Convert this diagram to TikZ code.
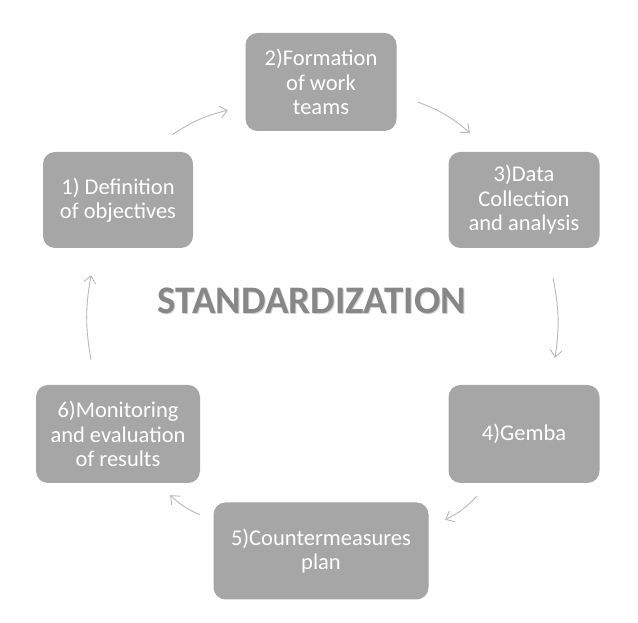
\documentclass[tikz,border=0pt]{standalone}
\usepackage{fontspec}
\setmainfont{Carlito}
\usetikzlibrary{arrows.meta}

\tikzset{
  stage/.style={fill=black!35, rounded corners=12pt, text=white, align=center,
    font=\fontsize{22.5}{24.5}\selectfont, inner sep=0pt},
  flow/.style={draw=black!28, line width=0.9pt, -{Straight Barb[length=7pt,width=12pt]}, bend left=10}
}

\begin{document}
\begin{tikzpicture}[x=1pt,y=1pt]
    \useasboundingbox (0,0) rectangle (638,623);

    \node[stage, minimum width=150, minimum height=96] (obj) at (118,423) {1) Definition\\of objectives};
    \node[stage, minimum width=151, minimum height=98] (team) at (321,541) {2)Formation\\of work\\teams};
    \node[stage, minimum width=151, minimum height=96] (data) at (524,423) {3)Data\\Collection\\and analysis};
    \node[stage, minimum width=151, minimum height=98] (gemba) at (524,189) {4)Gemba};
    \node[stage, minimum width=215, minimum height=97] (plan) at (321,72) {5)Countermeasures\\plan};
    \node[stage, minimum width=164, minimum height=98] (monit) at (118,189) {6)Monitoring\\and evaluation\\of results};

    % title with a soft shadow
    \node[text=black!18, font=\bfseries\fontsize{39}{42}\selectfont] at (313,321) {STANDARDIZATION};
    \node[text=black!47, font=\bfseries\fontsize{39}{42}\selectfont] (title) at (312,322) {STANDARDIZATION};

    \draw[flow] ([shift={(-21,17)}]obj.north east) to ([shift={(-17.5,21)}]team.south west);
    \draw[flow] ([shift={(21.5,29)}]team.south east) to ([shift={(21.5,19)}]data.north west);
    \draw[flow] ([shift={(29,-30)}]data.south) to ([shift={(31,27)}]gemba.north);
    \draw[flow] ([shift={(28.5,-13)}]gemba.south west) to ([shift={(16.5,-17.5)}]plan.north east);
    \draw[flow] ([shift={(-13.5,-12.5)}]plan.north west) to ([shift={(-30,-12)}]monit.south east);
    \draw[flow] ([shift={(-27,25)}]monit.north) to ([shift={(-27,-27)}]obj.south);

\end{tikzpicture}
\end{document}
